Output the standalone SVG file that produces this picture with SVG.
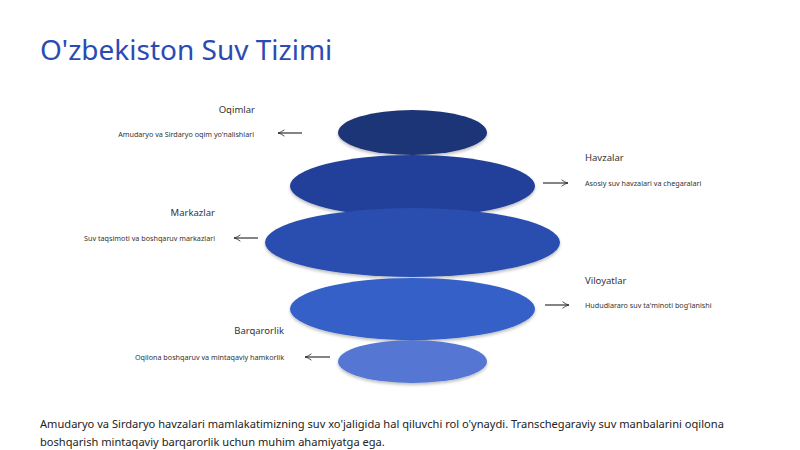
<svg xmlns="http://www.w3.org/2000/svg" width="800" height="450" viewBox="0 0 800 450">
<defs>
<style>
text{font-family:"Noto Sans","Open Sans","Liberation Sans",sans-serif;fill:#333}
.title{font-size:28px;fill:#2b4bb3}
.lbl{font-size:9.5px}
.desc{font-size:7.2px}
.body{font-size:11.1px;fill:#222}
.conn line{stroke:#333;stroke-width:1.2;fill:none}
.layer{filter:url(#sh)}
</style>
<marker id="ah" viewBox="0 0 10 10" refX="9" refY="5" markerWidth="8" markerHeight="8" orient="auto-start-reverse" markerUnits="userSpaceOnUse">
<path d="M1,1 Q5,4.2 9,5 Q5,5.8 1,9" fill="none" stroke="#333" stroke-width="1.1"/>
</marker>
<filter id="sh" x="-10%" y="-20%" width="120%" height="150%">
<feDropShadow dx="0" dy="2" stdDeviation="1.5" flood-color="#000" flood-opacity="0.25"/>
</filter>
</defs>
<rect width="800" height="450" fill="#ffffff"/>
<text class="title" x="40" y="60">O'zbekiston Suv Tizimi</text>

<g id="layer-oqimlar" class="layer"><ellipse cx="412.5" cy="132.5" rx="74.5" ry="22.5" fill="#1f3577"/></g>
<g id="layer-havzalar" class="layer"><ellipse cx="412.5" cy="186" rx="122.5" ry="31" fill="#23409a"/></g>
<g id="layer-markazlar" class="layer"><ellipse cx="412.5" cy="242.5" rx="147.5" ry="34.5" fill="#2b4db0"/></g>
<g id="layer-viloyatlar" class="layer"><ellipse cx="412.5" cy="309" rx="122.5" ry="31" fill="#3560c8"/></g>
<g id="layer-barqarorlik" class="layer"><ellipse cx="412.5" cy="361.5" rx="74.5" ry="21.5" fill="#5577d3"/></g>

<g id="label-oqimlar">
<text class="lbl" x="255" y="113" text-anchor="end">Oqimlar</text>
<text class="desc" x="254" y="137" text-anchor="end">Amudaryo va Sirdaryo oqim yo'nalishlari</text>
</g>
<g id="label-havzalar">
<text class="lbl" x="585" y="161">Havzalar</text>
<text class="desc" x="585" y="185.5">Asosiy suv havzalari va chegaralari</text>
</g>
<g id="label-markazlar">
<text class="lbl" x="215" y="216" text-anchor="end">Markazlar</text>
<text class="desc" x="215" y="240.5" text-anchor="end">Suv taqsimoti va boshqaruv markazlari</text>
</g>
<g id="label-viloyatlar">
<text class="lbl" x="585" y="284">Viloyatlar</text>
<text class="desc" x="585" y="308">Hududlararo suv ta'minoti bog'lanishi</text>
</g>
<g id="label-barqarorlik">
<text class="lbl" x="284" y="334" text-anchor="end">Barqarorlik</text>
<text class="desc" x="284" y="359.5" text-anchor="end">Oqilona boshqaruv va mintaqaviy hamkorlik</text>
</g>

<g id="connectors" class="conn">
<line x1="302" y1="133" x2="278" y2="133" marker-end="url(#ah)"/>
<line x1="543" y1="183" x2="568" y2="183" marker-end="url(#ah)"/>
<line x1="258" y1="238" x2="234" y2="238" marker-end="url(#ah)"/>
<line x1="545" y1="305" x2="569" y2="305" marker-end="url(#ah)"/>
<line x1="330" y1="357" x2="305" y2="357" marker-end="url(#ah)"/>
</g>

<text class="body" x="40" y="428">Amudaryo va Sirdaryo havzalari mamlakatimizning suv xo'jaligida hal qiluvchi rol o'ynaydi. Transchegaraviy suv manbalarini oqilona</text>
<text class="body" x="40" y="446">boshqarish mintaqaviy barqarorlik uchun muhim ahamiyatga ega.</text>
</svg>
